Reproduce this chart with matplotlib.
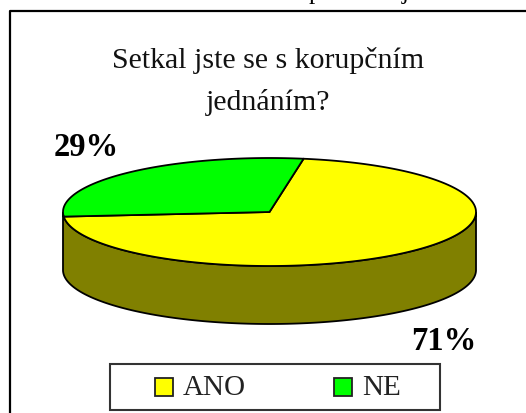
import numpy as np
import matplotlib
matplotlib.use('Agg')
import matplotlib.pyplot as plt
from matplotlib.patches import Rectangle

plt.rcParams['font.family'] = ['Liberation Serif', 'DejaVu Serif']

title = 'Setkal jste se s korupčním\njednáním?'
categories = ['ANO', 'NE']
values = [71, 29]
colors = ['#ffff00', '#00ff00']
wall_color = '#808000'
start_angle = 80.5  # where the green slice starts

# ellipse of the pie in pixels
cx, cy = 269.5, 212
rx, ry = 206.5, 54
depth = 58

fig = plt.figure(figsize=(5.26, 4.13), dpi=100)
ax = fig.add_axes([0, 0, 1, 1])
ax.set_xlim(0, 526)
ax.set_ylim(413, 0)
ax.axis('off')


def ell(t):
    t = np.radians(t)
    return cx + rx * np.cos(t), cy - ry * np.sin(t)


# side wall
t = np.linspace(180, 360, 200)
x, y = ell(t)
ax.fill(np.r_[x, x[::-1]], np.r_[y, y[::-1] + depth], fc=wall_color, ec='black', lw=1.3, zorder=2)

# top slices
span_ne = values[1] / sum(values) * 360
t_ne = np.linspace(start_angle, start_angle + span_ne, 100)
t_ano = np.linspace(start_angle + span_ne, start_angle + 360, 250)
for tt, c in zip([t_ano, t_ne], colors):
    x, y = ell(tt)
    ax.fill(np.r_[cx, x], np.r_[cy, y], fc=c, ec='black', lw=1.3, zorder=3)

# frame
ax.plot([9.5, 9.5, 526], [413, 11, 11], color='black', lw=1.6, zorder=1)

# clipped line of the page text above the chart
ax.text(315, -0.5, 'p', fontsize=18, ha='center', va='baseline', clip_on=True)
ax.text(405, -0.5, 'j', fontsize=18, ha='center', va='baseline', clip_on=True)

ax.text(268.5, 61, title.split('\n')[0], fontsize=21.5, ha='center', va='center', color='#111111')
ax.text(268.5, 103, title.split('\n')[1], fontsize=21.5, ha='center', va='center', color='#111111')

ax.text(86, 147, f'{values[1]}%', fontsize=23.5, fontweight='bold', ha='center', va='center')
ax.text(444, 341, f'{values[0]}%', fontsize=23.5, fontweight='bold', ha='center', va='center')

# legend
ax.add_patch(Rectangle((110, 363.5), 330, 46, fc='white', ec='#333333', lw=1.5, zorder=2))
for x0, c, lab in zip([155, 334], colors, categories):
    ax.add_patch(Rectangle((x0, 378), 18, 18, fc=c, ec='#222222', lw=1.3, zorder=3))
    ax.text(x0 + 28, 388, lab, fontsize=21, ha='left', va='center', color='#222222', zorder=3)

fig.savefig('out.png', dpi=100)
